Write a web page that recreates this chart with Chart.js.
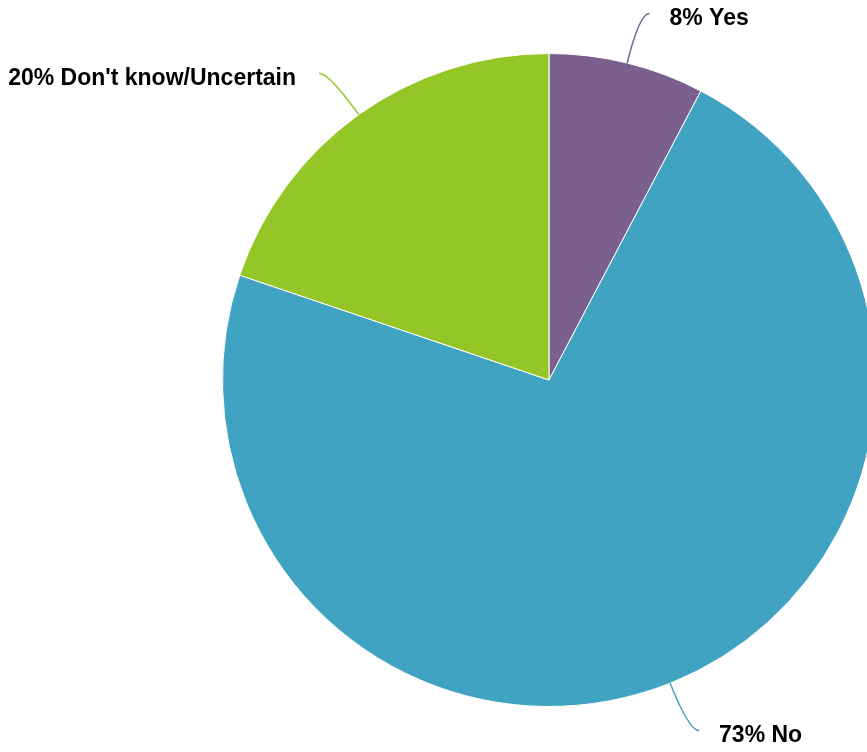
<!DOCTYPE html>
<html>
<head>
<meta charset="utf-8">
<script src="https://cdn.jsdelivr.net/npm/chart.js@4/dist/chart.umd.min.js"></script>
<style>
  html, body { margin: 0; padding: 0; background: #ffffff; overflow: hidden; width: 867px; height: 752px; }
  #wrap { position: absolute; left: 0; top: 0; width: 930px; height: 752px; }
</style>
</head>
<body>
<div id="wrap"><canvas id="c" width="930" height="752"></canvas></div>
<script>
const categories = ["Yes", "No", "Don't know/Uncertain"];
const values = [7.7, 72.5, 19.8];
const colors = ["#7b5f8e", "#40a3c2", "#95c627"];

const leaderPlugin = {
  id: 'leaders',
  afterDatasetsDraw(chart) {
    const ctx = chart.ctx;
    const meta = chart.getDatasetMeta(0);
    const total = values.reduce((a, b) => a + b, 0);
    meta.data.forEach((arc, i) => {
      const p = arc.getProps(['x', 'y', 'startAngle', 'endAngle', 'outerRadius'], true);
      const mid = (p.startAngle + p.endAngle) / 2;
      const cos = Math.cos(mid), sin = Math.sin(mid);
      const sx = p.x + cos * p.outerRadius;
      const sy = p.y + sin * p.outerRadius;
      const d = 51;
      const cx = p.x + cos * (p.outerRadius + d);
      const cy = p.y + sin * (p.outerRadius + d);
      const right = cos >= 0;
      const ex = cx + (right ? 10 : -10);
      const ey = cy;
      ctx.save();
      ctx.strokeStyle = colors[i];
      ctx.lineWidth = 1.5;
      ctx.beginPath();
      ctx.moveTo(sx, sy);
      ctx.quadraticCurveTo(cx, cy, ex, ey);
      ctx.stroke();
      const pct = Math.round(values[i] / total * 100);
      ctx.fillStyle = '#000000';
      ctx.font = 'bold 23px "Liberation Sans", Arial, sans-serif';
      ctx.textBaseline = 'middle';
      ctx.textAlign = right ? 'left' : 'right';
      ctx.fillText(pct + '% ' + categories[i], ex + (right ? 20 : -23), ey + 5);
      ctx.restore();
    });
  }
};

new Chart(document.getElementById('c'), {
  type: 'pie',
  data: {
    labels: categories,
    datasets: [{
      data: values,
      backgroundColor: colors,
      borderColor: '#ffffff',
      borderWidth: 1
    }]
  },
  options: {
    responsive: false,
    animation: false,
    devicePixelRatio: 1,
    layout: { padding: { left: 222, right: 54, top: 53, bottom: 45 } },
    plugins: { legend: { display: false }, tooltip: { enabled: false } }
  },
  plugins: [leaderPlugin]
});
</script>
</body>
</html>
